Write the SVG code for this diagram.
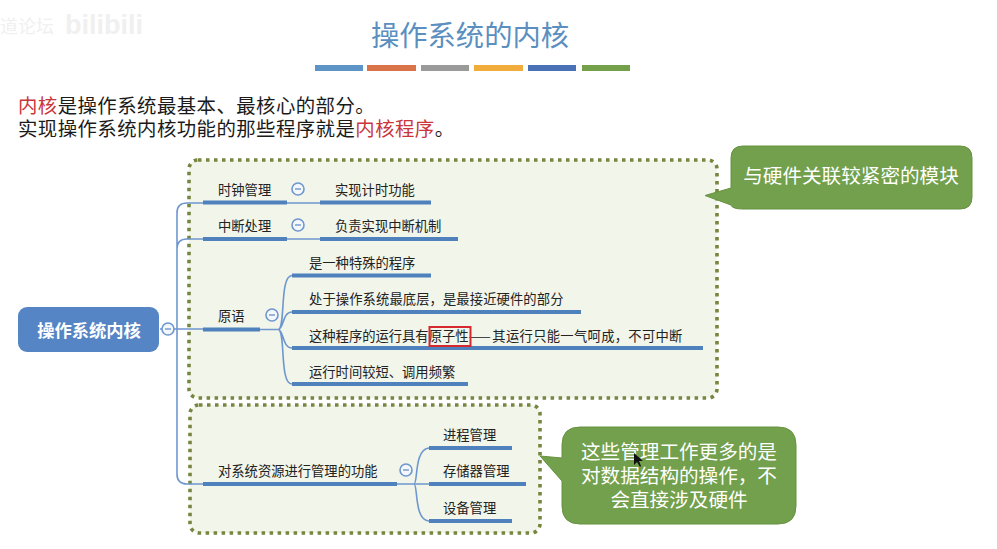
<svg xmlns="http://www.w3.org/2000/svg" width="997" height="549" viewBox="0 0 997 549">
<style>
text{font-family:"Noto Sans CJK SC","Liberation Sans",sans-serif}
.t{font-size:13.3px;fill:#222}
.p{font-size:19.4px;letter-spacing:.45px;fill:#1a1a1a}
.r{fill:#c9353a}
.w{font-size:19.6px;fill:#fff;text-anchor:middle}
.panel{fill:#f1f5ea;stroke:#76853f;stroke-width:3.600;stroke-dasharray:3.500 4.500}
.callout{fill:#72a04c;stroke:#67923f;stroke-width:1}
.thick{stroke:#4f81bd;stroke-width:4;fill:none}
.thin{stroke:#6f97cf;stroke-width:1.6;fill:none}
.c{fill:#f4f7fb;stroke:#6f97cf;stroke-width:1.6}
.m{stroke:#6f97cf;stroke-width:1.4}
</style>
<rect width="997" height="549" fill="#fff"/>
<g id="watermark" fill="#f0f0f0">
<text x="0" y="33" font-size="18">道论坛</text>
<text x="65" y="34" font-size="27" font-weight="bold" style="font-family:'Liberation Sans',sans-serif">bilibili</text>
</g>
<g id="title">
<text x="470" y="46" font-size="28.300" fill="#5b8fbf" text-anchor="middle">操作系统的内核</text>
<rect x="315" y="65" width="48" height="6" fill="#5b94c5"/>
<rect x="367" y="65" width="49" height="6" fill="#d9744a"/>
<rect x="421" y="65" width="48" height="6" fill="#9a9a9a"/>
<rect x="474" y="65" width="49" height="6" fill="#f0ad3c"/>
<rect x="528" y="65" width="48" height="6" fill="#4a70b5"/>
<rect x="582" y="65" width="48" height="6" fill="#74a04a"/>
</g>
<g id="intro">
<text class="p" x="18" y="113"><tspan class="r">内核</tspan>是操作系统最基本、最核心的部分。</text>
<text class="p" x="18" y="136">实现操作系统内核功能的那些程序就是<tspan class="r">内核程序</tspan>。</text>
</g>
<g id="panel-kernel"><rect class="panel" x="189" y="160" width="528" height="238" rx="9"/></g>
<g id="panel-resources"><rect class="panel" x="190" y="405" width="350" height="128" rx="9"/></g>
<g id="connectors">
<path class="thin" d="M160 329H203M177 329V213Q177 203 187 203H203M177 249Q177 239 187 239H203M177 329V474Q177 484 187 484H203"/>
<path class="thin" d="M287 203H320M287 239H320M260 329.500H278M397 484H429"/>
<path class="thin" d="M278 329.500C286 329.500 279 276 292 275.500M278 329.500C284 329.500 282 312 292 312M278 329.500C284 329.500 282 348 292 348M278 329.500C286 329.500 279 384 292 384"/>
<path class="thin" d="M414 484C418 484 414 449 429 448M414 484C418 484 414 521 429 521"/>
<path class="thick" d="M203 202.500H287M320 202.500H431M203 239H287M320 239H458M203 329.500H260M292 275.500H431M292 312H581M292 348H703M292 384H468M203 484H397M429 448H512M429 484H526M429 521H512"/>
</g>
<g id="node-root">
<rect x="18" y="307" width="141" height="45" rx="9" fill="#5585c4"/>
<text x="89" y="337" font-size="17.300" font-weight="bold" fill="#fff" text-anchor="middle">操作系统内核</text>
<circle class="c" cx="168" cy="329" r="6"/><path class="m" d="M165 329H171"/>
</g>
<g id="node-clock">
<text class="t" x="218" y="195">时钟管理</text>
<circle class="c" cx="298" cy="189" r="6"/><path class="m" d="M295 189H301"/>
<text class="t" x="335" y="195">实现计时功能</text>
</g>
<g id="node-interrupt">
<text class="t" x="218" y="231">中断处理</text>
<circle class="c" cx="298" cy="225" r="6"/><path class="m" d="M295 225H301"/>
<text class="t" x="335" y="231">负责实现中断机制</text>
</g>
<g id="node-primitive">
<text class="t" x="218" y="321">原语</text>
<circle class="c" cx="272" cy="315" r="6"/><path class="m" d="M269 315H275"/>
<text class="t" x="309" y="268">是一种特殊的程序</text>
<text class="t" x="309" y="304" letter-spacing=".1">处于操作系统最底层，是最接近硬件的部分</text>
<text class="t" x="309" y="341">这种程序的运行具有原子性——<tspan dx="1.500" letter-spacing=".3">其运行只能一气呵成，不可中断</tspan></text>
<rect x="429.500" y="327" width="41" height="19" fill="none" stroke="#d8282f" stroke-width="2"/>
<text class="t" x="309" y="377">运行时间较短、调用频繁</text>
</g>
<g id="node-resources">
<text class="t" x="218" y="476">对系统资源进行管理的功能</text>
<circle class="c" cx="406" cy="470" r="6"/><path class="m" d="M403 470H409"/>
<text class="t" x="443" y="440">进程管理</text>
<text class="t" x="443" y="476">存储器管理</text>
<text class="t" x="443" y="513">设备管理</text>
</g>
<g id="callout-hardware">
<path class="callout" d="M743 146H960Q972 146 972 158V197Q972 209 960 209H743Q732 209 731 205L705 195.500L731 188V158Q731 146 743 146Z"/>
<text class="w" x="851" y="183">与硬件关联较紧密的模块</text>
</g>
<g id="callout-data">
<path class="callout" d="M580 427H778Q796 427 796 445V506Q796 524 778 524H580Q562 524 562 506V481L540 456L562 458V445Q562 427 580 427Z"/>
<text class="w" x="679" y="459">这些管理工作更多的是</text>
<text class="w" x="679" y="483">对数据结构的操作，不</text>
<text class="w" x="679" y="507">会直接涉及硬件</text>
</g>
<path id="cursor" d="M634 453V465L637 462L640 467L641 466L639 461H643Z" fill="#111"/>
</svg>
